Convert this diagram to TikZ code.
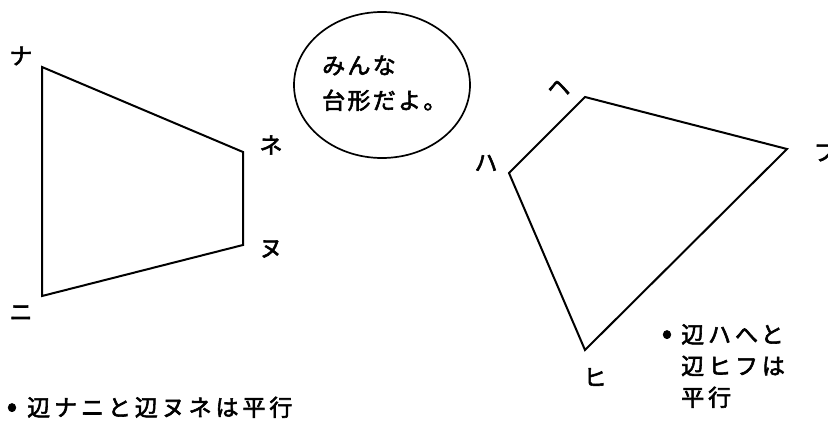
\documentclass[tikz,border=0pt]{standalone}
\usepackage{fontspec}
\setmainfont{Noto Sans CJK JP}[FakeBold=2.5]
\usetikzlibrary{positioning,shapes.geometric}

\tikzset{
  edge/.style={line width=2pt, line join=miter},
  vlabel/.style={font=\fontsize{23}{26}\selectfont, inner sep=0pt},
  bubble/.style={draw, ellipse, line width=1.7pt, minimum width=176pt, minimum height=146pt, inner sep=0pt},
  saying/.style={font=\fontsize{23}{35}\selectfont\addfontfeature{LetterSpace=10}, align=left, inner sep=0pt, anchor=base west},
  note/.style={font=\fontsize{23}{31.5}\selectfont\addfontfeature{LetterSpace=17}, align=left, inner sep=0pt, anchor=base west},
  dot/.style={font=\fontsize{30}{30}\selectfont, inner sep=0pt},
}

\begin{document}
\begin{tikzpicture}[x=1pt,y=-1pt]
    \useasboundingbox (0,0) rectangle (828,423);

    % trapezoid na-ne-nu-ni
    \coordinate (na) at (42,67);
    \coordinate (ne) at (243,152);
    \coordinate (nu) at (243,245);
    \coordinate (ni) at (42,296);
    \draw[edge] (na) -- (ne) -- (nu) -- (ni) -- cycle;
    \node[vlabel] (naL) at (21,56) {ナ};
    \node[vlabel] (neL) at (271,145) {ネ};
    \node[vlabel] (nuL) at (271,249) {ヌ};
    \node[vlabel] (niL) at (21,313) {ニ};

    % speech bubble
    \node[bubble] (bubble) at (382,85) {};
    \node[saying] (minna) at (322,109) {みんな\\台形だよ。};

    % trapezoid ha-he-fu-hi
    \coordinate (ha) at (509,173);
    \coordinate (he) at (585,97);
    \coordinate (fu) at (787,149);
    \coordinate (hi) at (585,350);
    \draw[edge] (ha) -- (he) -- (fu) -- (hi) -- cycle;
    \node[vlabel] (haL) at (486,163) {ハ};
    \node[vlabel] (heL) at (559,88) {ヘ};
    \node[vlabel] (fuL) at (825,153) {フ};
    \node[vlabel] (hiL) at (595,377) {ヒ};

    % notes
    \node[dot] (dotR) at (667,337) {•};
    \node[note] (noteR) at (681,406) {辺ハへと\\辺ヒフは\\平行};
    \node[dot] (dotL) at (12,410) {•};
    \node[note] (noteL) at (27,416) {辺ナニと辺ヌネは平行};
\end{tikzpicture}
\end{document}
